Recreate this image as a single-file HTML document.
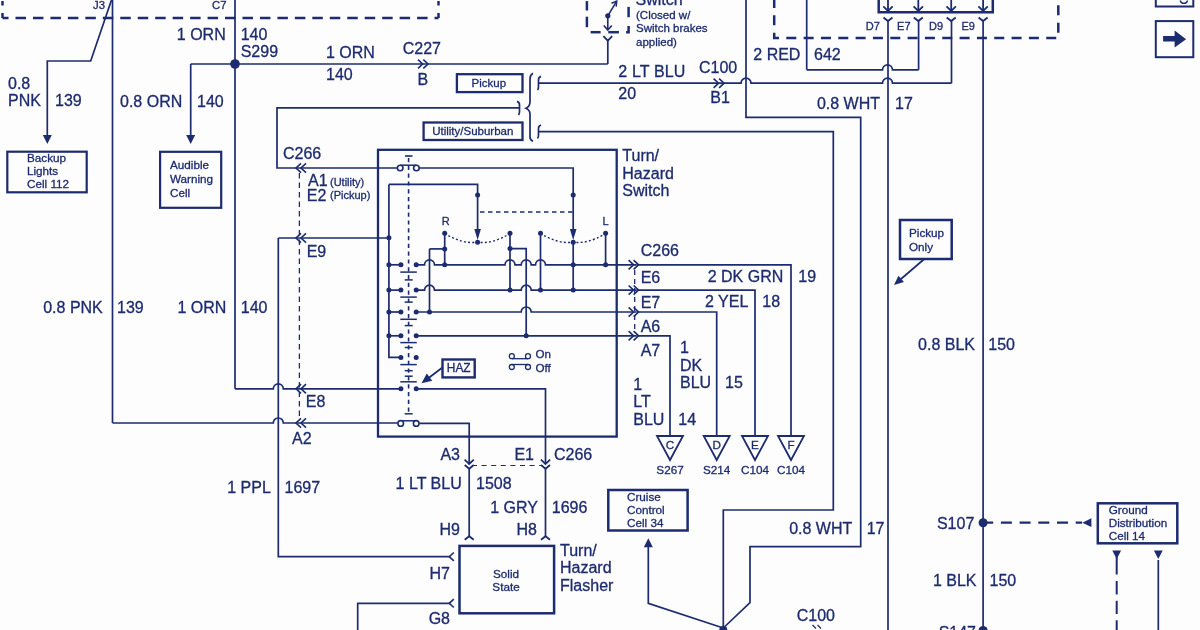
<!DOCTYPE html>
<html><head><meta charset="utf-8"><style>
html,body{margin:0;padding:0;background:#fdfdfd;}
svg{display:block;will-change:transform;}
text{font-family:"Liberation Sans",sans-serif;fill:#1d2b6f;stroke:#1d2b6f;stroke-width:0.3px;}
</style></head><body>
<svg width="1200" height="630" viewBox="0 0 1200 630">
<rect width="1200" height="630" fill="#fdfdfd"/>
<path d="M2.5 18 L438.5 18" fill="none" stroke="#1d2b6f" stroke-width="2.5" stroke-dasharray="10.5 6.96" stroke-dashoffset="4.46"/>
<path d="M2.5 1 L2.5 5.5" fill="none" stroke="#1d2b6f" stroke-width="2.5" />
<path d="M2.5 13 L2.5 18" fill="none" stroke="#1d2b6f" stroke-width="2.5" />
<path d="M438.5 1 L438.5 5.5" fill="none" stroke="#1d2b6f" stroke-width="2.5" />
<path d="M438.5 13 L438.5 18" fill="none" stroke="#1d2b6f" stroke-width="2.5" />
<text x="93" y="8.5" font-size="11.3" text-anchor="start" >J3</text>
<text x="212" y="8.5" font-size="11.3" text-anchor="start" >C7</text>
<path d="M112.5 0 L112.5 423" fill="none" stroke="#1d2b6f" stroke-width="1.7" />
<path d="M111.5 0 L90.7 61 L47.3 61 L47.3 135" fill="none" stroke="#1d2b6f" stroke-width="1.7" />
<path d="M47.3 144 L42.80 135.00 L51.80 135.00 Z" fill="#1d2b6f"/>
<text x="8" y="88.6" font-size="16" text-anchor="start" >0.8</text>
<text x="8" y="106.2" font-size="16" text-anchor="start" >PNK</text>
<text x="55" y="106.2" font-size="16" text-anchor="start" >139</text>
<rect x="7.3" y="151.7" width="79.4" height="40.60000000000002" fill="none" stroke="#1d2b6f" stroke-width="2.2"/>
<text x="27" y="162.4" font-size="11.7" text-anchor="start" >Backup</text>
<text x="27" y="175.2" font-size="11.7" text-anchor="start" >Lights</text>
<text x="27" y="188" font-size="11.7" text-anchor="start" >Cell 112</text>
<path d="M235 0 L235 388.8" fill="none" stroke="#1d2b6f" stroke-width="1.7" />
<text x="225.7" y="39.9" font-size="16" text-anchor="end" >1 ORN</text>
<text x="240.7" y="39.9" font-size="16" text-anchor="start" >140</text>
<text x="240.7" y="57.3" font-size="16" text-anchor="start" >S299</text>
<circle cx="235" cy="64" r="4.8" fill="#1d2b6f"/>
<path d="M190.7 64 L607.8 64" fill="none" stroke="#1d2b6f" stroke-width="1.7"/>
<path d="M190.7 64 L190.7 135" fill="none" stroke="#1d2b6f" stroke-width="1.7" />
<path d="M190.7 144 L186.20 135.00 L195.20 135.00 Z" fill="#1d2b6f"/>
<text x="120" y="106.6" font-size="16" text-anchor="start" >0.8 ORN</text>
<text x="197" y="106.6" font-size="16" text-anchor="start" >140</text>
<rect x="160.1" y="151.8" width="61.099999999999994" height="56.0" fill="none" stroke="#1d2b6f" stroke-width="2.2"/>
<text x="170" y="168.7" font-size="11.7" text-anchor="start" >Audible</text>
<text x="170" y="182.5" font-size="11.7" text-anchor="start" >Warning</text>
<text x="170" y="196.5" font-size="11.7" text-anchor="start" >Cell</text>
<text x="326" y="58.0" font-size="16" text-anchor="start" >1 ORN</text>
<text x="326" y="80.0" font-size="16" text-anchor="start" >140</text>
<path d="M418.0 59.7 L422.7 64 L418.0 68.3" fill="none" stroke="#1d2b6f" stroke-width="1.6" />
<path d="M423.3 59.7 L428 64 L423.3 68.3" fill="none" stroke="#1d2b6f" stroke-width="1.6" />
<text x="402.7" y="53.9" font-size="16" text-anchor="start" >C227</text>
<text x="417.5" y="84.6" font-size="16" text-anchor="start" >B</text>
<path d="M586.9 1.1 L586.9 10.5" fill="none" stroke="#1d2b6f" stroke-width="2.5" />
<path d="M586.9 16.7 L586.9 27.2" fill="none" stroke="#1d2b6f" stroke-width="2.5" />
<path d="M590.6 32.2 L600.6 32.2" fill="none" stroke="#1d2b6f" stroke-width="2.5" />
<path d="M608.3 32.2 L618.9 32.2" fill="none" stroke="#1d2b6f" stroke-width="2.5" />
<path d="M626.1 32.2 L628.6 32.2 L628.6 26.1" fill="none" stroke="#1d2b6f" stroke-width="2.5" />
<path d="M628.6 6.9 L628.6 17.2" fill="none" stroke="#1d2b6f" stroke-width="2.5" />
<circle cx="607.8" cy="15.8" r="2.6" fill="#1d2b6f"/>
<path d="M607.8 15.8 L616.7 1.1" fill="none" stroke="#1d2b6f" stroke-width="1.6" />
<path d="M607.8 15.8 L607.8 30" fill="none" stroke="#1d2b6f" stroke-width="1.6" />
<path d="M603.8 25.5 L607.8 30 L611.8 25.5" fill="none" stroke="#1d2b6f" stroke-width="1.6" />
<path d="M603.4 36.1 L607.8 40.6 L612.2 36.1" fill="none" stroke="#1d2b6f" stroke-width="1.8" />
<path d="M607.8 40.6 L607.8 64" fill="none" stroke="#1d2b6f" stroke-width="1.7" />
<text x="635.5" y="4.5" font-size="16" text-anchor="start" >Switch</text>
<text x="636" y="18.6" font-size="11.5" text-anchor="start" >(Closed w/</text>
<text x="636" y="32.2" font-size="11.5" text-anchor="start" >Switch brakes</text>
<text x="636" y="46.1" font-size="11.5" text-anchor="start" >applied)</text>
<path d="M611.5 3.2 L616.7 1.1 L616.2 6.6" fill="none" stroke="#1d2b6f" stroke-width="1.5"/>
<rect x="456.9" y="74.2" width="65.60000000000002" height="17.89999999999999" fill="none" stroke="#1d2b6f" stroke-width="2.3"/>
<text x="488.8" y="86.6" font-size="11.5" text-anchor="middle" >Pickup</text>
<rect x="423.6" y="122.5" width="98.89999999999998" height="17.5" fill="none" stroke="#1d2b6f" stroke-width="2.3"/>
<text x="472.8" y="134.9" font-size="11.5" text-anchor="middle" >Utility/Suburban</text>
<path d="M533 73.3 Q530 75 530 79 L530 102 Q530 106.5 526 108.2 Q530 110 530 114 L530 137 Q530 140 533 141.2" fill="none" stroke="#1d2b6f" stroke-width="1.7"/>
<path d="M541 76.4 Q538.5 77.2 538.5 80 L538.5 86.5 Q538.5 89 537.5 90" fill="none" stroke="#1d2b6f" stroke-width="1.7"/>
<path d="M541 125 Q538.5 125.8 538.5 128.6 L538.5 135 Q538.5 137.5 537.5 138.5" fill="none" stroke="#1d2b6f" stroke-width="1.7"/>
<path d="M517 101.4 Q519.5 102.2 519.5 105 L519.5 111.5 Q519.5 114 518.5 115" fill="none" stroke="#1d2b6f" stroke-width="1.7"/>
<path d="M519.5 107.9 L277 107.9 L277 168 L397.4 168" fill="none" stroke="#1d2b6f" stroke-width="1.7" />
<path d="M301 163.4 L296 168 L301 172.6" fill="none" stroke="#1d2b6f" stroke-width="1.6" />
<path d="M306 163.4 L301 168 L306 172.6" fill="none" stroke="#1d2b6f" stroke-width="1.6" />
<path d="M299.4 173 L299.4 418" fill="none" stroke="#1d2b6f" stroke-width="1.3" stroke-dasharray="5.5 4" stroke-dashoffset="0"/>
<text x="283" y="159.1" font-size="16" text-anchor="start" >C266</text>
<text x="308.1" y="186.2" font-size="16" text-anchor="start" >A1</text>
<text x="330" y="185.6" font-size="11" text-anchor="start" >(Utility)</text>
<text x="306.8" y="201.3" font-size="16" text-anchor="start" >E2</text>
<text x="330" y="198.7" font-size="11" text-anchor="start" >(Pickup)</text>
<path d="M538.5 83.2 L741 83.2 A5 5 0 0 1 751 83.2 L882.5 83.2 A5 5 0 0 1 892.5 83.2 L951.5 83.2" fill="none" stroke="#1d2b6f" stroke-width="1.7"/>
<path d="M951.5 83.2 L951.5 21" fill="none" stroke="#1d2b6f" stroke-width="1.7" />
<text x="618.3" y="76.8" font-size="16" text-anchor="start" textLength="67" lengthAdjust="spacing">2 LT BLU</text>
<text x="618.3" y="99.2" font-size="16" text-anchor="start" >20</text>
<path d="M713.6 78.60000000000001 L718.6 83.2 L713.6 87.8" fill="none" stroke="#1d2b6f" stroke-width="1.6" />
<path d="M719.1 78.60000000000001 L724.1 83.2 L719.1 87.8" fill="none" stroke="#1d2b6f" stroke-width="1.6" />
<text x="699" y="72.5" font-size="16" text-anchor="start" >C100</text>
<text x="710.3" y="103.4" font-size="16" text-anchor="start" >B1</text>
<path d="M538.5 131.7 L833.3 131.7 L833.3 510 L723.3 510 L723.3 628" fill="none" stroke="#1d2b6f" stroke-width="1.7" />
<path d="M746 0 L746 117.3 L860.7 117.3 L860.7 546.7 L750 546.7 L750 602.7 L723.3 628" fill="none" stroke="#1d2b6f" stroke-width="1.7"/>
<text x="753.3" y="59.7" font-size="16" text-anchor="start" >2 RED</text>
<text x="814" y="59.7" font-size="16" text-anchor="start" >642</text>
<text x="880" y="108.6" font-size="16" text-anchor="end" >0.8 WHT</text>
<text x="895" y="108.6" font-size="16" text-anchor="start" >17</text>
<path d="M806.7 0 L806.7 69.8" fill="none" stroke="#1d2b6f" stroke-width="1.7" />
<path d="M806.7 69.8 L882.5 69.8 A5 5 0 0 1 892.5 69.8 L918.6 69.8" fill="none" stroke="#1d2b6f" stroke-width="1.7"/>
<path d="M918.6 69.8 L918.6 21" fill="none" stroke="#1d2b6f" stroke-width="1.7" />
<path d="M774.2 0 L774.2 37.9 L1058.3 37.9 L1058.3 0" fill="none" stroke="#1d2b6f" stroke-width="2.5" stroke-dasharray="10 7.33" stroke-dashoffset="2"/>
<path d="M878.7 0 L878.7 12.25 L992.8 12.25 L992.8 0" fill="none" stroke="#1d2b6f" stroke-width="2.5"/>
<path d="M888 0 L888 11" fill="none" stroke="#1d2b6f" stroke-width="1.8" />
<path d="M883.3 6.4 L888 11 L892.7 6.4" fill="none" stroke="#1d2b6f" stroke-width="1.8" />
<path d="M883.5 17.5 L888 21 L892.5 17.5" fill="none" stroke="#1d2b6f" stroke-width="1.8" />
<path d="M918.3 0 L918.3 11" fill="none" stroke="#1d2b6f" stroke-width="1.8" />
<path d="M913.5999999999999 6.4 L918.3 11 L923.0 6.4" fill="none" stroke="#1d2b6f" stroke-width="1.8" />
<path d="M913.8 17.5 L918.3 21 L922.8 17.5" fill="none" stroke="#1d2b6f" stroke-width="1.8" />
<path d="M951.2 0 L951.2 11" fill="none" stroke="#1d2b6f" stroke-width="1.8" />
<path d="M946.5 6.4 L951.2 11 L955.9000000000001 6.4" fill="none" stroke="#1d2b6f" stroke-width="1.8" />
<path d="M946.7 17.5 L951.2 21 L955.7 17.5" fill="none" stroke="#1d2b6f" stroke-width="1.8" />
<path d="M983.1 0 L983.1 11" fill="none" stroke="#1d2b6f" stroke-width="1.8" />
<path d="M978.4 6.4 L983.1 11 L987.8000000000001 6.4" fill="none" stroke="#1d2b6f" stroke-width="1.8" />
<path d="M978.6 17.5 L983.1 21 L987.6 17.5" fill="none" stroke="#1d2b6f" stroke-width="1.8" />
<text x="865.8" y="29.75" font-size="11" text-anchor="start" >D7</text>
<text x="897.1" y="29.75" font-size="11" text-anchor="start" >E7</text>
<text x="929" y="29.75" font-size="11" text-anchor="start" >D9</text>
<text x="961.5" y="29.75" font-size="11" text-anchor="start" >E9</text>
<path d="M888 21 L888 630" fill="none" stroke="#1d2b6f" stroke-width="1.7" />
<path d="M983.1 21 L983.1 630" fill="none" stroke="#1d2b6f" stroke-width="1.7" />
<path d="M1155.8 0 L1155.8 6.5 L1193.3 6.5 L1193.3 0" fill="none" stroke="#1d2b6f" stroke-width="2"/>
<path d="M1180.2 0.5 A3.8 3.8 0 0 0 1187.6 0.5" fill="none" stroke="#1d2b6f" stroke-width="1.3"/>
<rect x="1155.8" y="21.1" width="37.5" height="36.1" fill="none" stroke="#1d2b6f" stroke-width="2"/>
<path d="M1163.1 36 L1174.6 36 L1174.6 30.5 L1186.1 39.2 L1174.6 47.5 L1174.6 41.6 L1163.1 41.6 Z" fill="#1d2b6f"/>
<rect x="378" y="149.8" width="238.70000000000005" height="286.8" fill="none" stroke="#1d2b6f" stroke-width="2.3"/>
<text x="622.3" y="161.1" font-size="16" text-anchor="start" >Turn/</text>
<text x="622.3" y="178.7" font-size="16" text-anchor="start" >Hazard</text>
<text x="622.3" y="196.1" font-size="16" text-anchor="start" >Switch</text>
<path d="M278.3 238 L278.3 556.7 L450 556.7" fill="none" stroke="#1d2b6f" stroke-width="1.7" />
<path d="M278.3 238 L388.9 238" fill="none" stroke="#1d2b6f" stroke-width="1.7"/>
<path d="M301 233.4 L296 238 L301 242.6" fill="none" stroke="#1d2b6f" stroke-width="1.6" />
<path d="M306 233.4 L301 238 L306 242.6" fill="none" stroke="#1d2b6f" stroke-width="1.6" />
<text x="306.7" y="257.3" font-size="16" text-anchor="start" >E9</text>
<path d="M235 388.8 L273.3 388.8 A5 5 0 0 1 283.3 388.8 L400.7 388.8" fill="none" stroke="#1d2b6f" stroke-width="1.7"/>
<path d="M301 384.2 L296 388.8 L301 393.40000000000003" fill="none" stroke="#1d2b6f" stroke-width="1.6" />
<path d="M306 384.2 L301 388.8 L306 393.40000000000003" fill="none" stroke="#1d2b6f" stroke-width="1.6" />
<text x="305.8" y="407.3" font-size="16" text-anchor="start" >E8</text>
<path d="M112.5 423 L273.3 423 A5 5 0 0 1 283.3 423 L397.9 423" fill="none" stroke="#1d2b6f" stroke-width="1.7"/>
<path d="M301 418.4 L296 423 L301 427.6" fill="none" stroke="#1d2b6f" stroke-width="1.6" />
<path d="M306 418.4 L301 423 L306 427.6" fill="none" stroke="#1d2b6f" stroke-width="1.6" />
<text x="292" y="443.9" font-size="16" text-anchor="start" >A2</text>
<path d="M388.9 184.4 L477.6 184.4 L477.6 232" fill="none" stroke="#1d2b6f" stroke-width="1.7" />
<path d="M477.6 240 L474.30 229.00 L480.90 229.00 Z" fill="#1d2b6f"/>
<path d="M388.9 184.4 L388.9 357.4 L400.7 357.4" fill="none" stroke="#1d2b6f" stroke-width="1.7" />
<path d="M400.2 165.2 L416.4 165.2" fill="none" stroke="#1d2b6f" stroke-width="1.5" />
<circle cx="400.2" cy="168" r="2.8" fill="#fff" stroke="#1d2b6f" stroke-width="1.6"/>
<circle cx="416.4" cy="168" r="2.8" fill="#fff" stroke="#1d2b6f" stroke-width="1.6"/>
<path d="M419.2 168 L573.2 168 L573.2 232" fill="none" stroke="#1d2b6f" stroke-width="1.7" />
<path d="M573.2 240 L569.90 229.00 L576.50 229.00 Z" fill="#1d2b6f"/>
<path d="M405 156 L412.5 156" fill="none" stroke="#1d2b6f" stroke-width="1.6" />
<path d="M408.6 158 L408.6 413" fill="none" stroke="#1d2b6f" stroke-width="1.6" stroke-dasharray="4.2 3.6" stroke-dashoffset="0"/>
<circle cx="477.6" cy="194.9" r="2.5" fill="#1d2b6f"/>
<circle cx="573.2" cy="194.9" r="2.5" fill="#1d2b6f"/>
<path d="M480 212 L573 212" fill="none" stroke="#1d2b6f" stroke-width="1.3" stroke-dasharray="4.5 3.5" stroke-dashoffset="0"/>
<circle cx="388.9" cy="237.8" r="2.5" fill="#1d2b6f"/>
<circle cx="388.9" cy="264.8" r="2.5" fill="#1d2b6f"/>
<circle cx="388.9" cy="290.1" r="2.5" fill="#1d2b6f"/>
<circle cx="388.9" cy="312" r="2.5" fill="#1d2b6f"/>
<circle cx="388.9" cy="335.8" r="2.5" fill="#1d2b6f"/>
<circle cx="400.9" cy="264.8" r="2.5" fill="#1d2b6f"/>
<circle cx="416.2" cy="264.8" r="2.5" fill="#1d2b6f"/>
<circle cx="400.9" cy="290.1" r="2.5" fill="#1d2b6f"/>
<circle cx="416.2" cy="290.1" r="2.5" fill="#1d2b6f"/>
<circle cx="400.9" cy="312" r="2.5" fill="#1d2b6f"/>
<circle cx="416.2" cy="312" r="2.5" fill="#1d2b6f"/>
<circle cx="400.9" cy="335.8" r="2.5" fill="#1d2b6f"/>
<circle cx="416.2" cy="335.8" r="2.5" fill="#1d2b6f"/>
<circle cx="400.9" cy="357.4" r="2.5" fill="#1d2b6f"/>
<circle cx="416.2" cy="357.4" r="2.5" fill="#1d2b6f"/>
<circle cx="400.9" cy="388.8" r="2.5" fill="#1d2b6f"/>
<circle cx="416.2" cy="388.8" r="2.5" fill="#1d2b6f"/>
<path d="M400.7 420.8 L416.2 420.8" fill="none" stroke="#1d2b6f" stroke-width="1.5" />
<circle cx="400.7" cy="423.4" r="2.8" fill="#fff" stroke="#1d2b6f" stroke-width="1.6"/>
<circle cx="416.2" cy="423.4" r="2.8" fill="#fff" stroke="#1d2b6f" stroke-width="1.6"/>
<path d="M419.2 423.4 L469.2 423.4 L469.2 463.5" fill="none" stroke="#1d2b6f" stroke-width="1.7" />
<path d="M464.59999999999997 459.59999999999997 L469.2 463.9 L473.8 459.59999999999997" fill="none" stroke="#1d2b6f" stroke-width="1.8" />
<path d="M416.2 388.8 L545.5 388.8 L545.5 463.5" fill="none" stroke="#1d2b6f" stroke-width="1.7" />
<path d="M540.9 459.59999999999997 L545.5 463.9 L550.1 459.59999999999997" fill="none" stroke="#1d2b6f" stroke-width="1.8" />
<path d="M388.9 264.8 L400.9 264.8" fill="none" stroke="#1d2b6f" stroke-width="1.7" />
<path d="M388.9 290.1 L400.9 290.1" fill="none" stroke="#1d2b6f" stroke-width="1.7" />
<path d="M388.9 312 L400.9 312" fill="none" stroke="#1d2b6f" stroke-width="1.7" />
<path d="M388.9 335.8 L400.9 335.8" fill="none" stroke="#1d2b6f" stroke-width="1.7" />
<path d="M416.2 264.8 L424.5 264.8 A5 5 0 0 1 434.5 264.8 L505 264.8 A5 5 0 0 1 515 264.8 L521.2 264.8 A5 5 0 0 1 531.2 264.8 L535.5 264.8 A5 5 0 0 1 545.5 264.8 L636.6 264.8" fill="none" stroke="#1d2b6f" stroke-width="1.7"/>
<path d="M416.2 290.1 L424.5 290.1 A5 5 0 0 1 434.5 290.1 L521.2 290.1 A5 5 0 0 1 531.2 290.1 L636.6 290.1" fill="none" stroke="#1d2b6f" stroke-width="1.7"/>
<path d="M416.2 312 L521.2 312 A5 5 0 0 1 531.2 312 L636.6 312" fill="none" stroke="#1d2b6f" stroke-width="1.7"/>
<path d="M416.2 335.8 L636.6 335.8" fill="none" stroke="#1d2b6f" stroke-width="1.7"/>
<path d="M400.3 272.1 L416.8 272.1" fill="none" stroke="#1d2b6f" stroke-width="1.5" />
<path d="M404.7 279.9 L412.7 279.9" fill="none" stroke="#1d2b6f" stroke-width="1.5" />
<path d="M400.3 297.1 L416.8 297.1" fill="none" stroke="#1d2b6f" stroke-width="1.5" />
<path d="M404.7 302.1 L412.7 302.1" fill="none" stroke="#1d2b6f" stroke-width="1.5" />
<path d="M400.3 319.3 L416.8 319.3" fill="none" stroke="#1d2b6f" stroke-width="1.5" />
<path d="M404.7 325.6 L412.7 325.6" fill="none" stroke="#1d2b6f" stroke-width="1.5" />
<path d="M400.3 342.6 L416.8 342.6" fill="none" stroke="#1d2b6f" stroke-width="1.5" />
<path d="M404.7 347.5 L412.7 347.5" fill="none" stroke="#1d2b6f" stroke-width="1.5" />
<path d="M400.3 364.6 L416.8 364.6" fill="none" stroke="#1d2b6f" stroke-width="1.5" />
<path d="M404.7 370.7 L412.7 370.7" fill="none" stroke="#1d2b6f" stroke-width="1.5" />
<path d="M404.7 376.2 L412.7 376.2" fill="none" stroke="#1d2b6f" stroke-width="1.5" />
<path d="M400.3 381.8 L416.8 381.8" fill="none" stroke="#1d2b6f" stroke-width="1.5" />
<path d="M404.7 413.8 L412.7 413.8" fill="none" stroke="#1d2b6f" stroke-width="1.5" />
<text x="441.8" y="224.7" font-size="11" text-anchor="start" >R</text>
<text x="602.4" y="224.8" font-size="11" text-anchor="start" >L</text>
<circle cx="444.7" cy="233.3" r="2.5" fill="#1d2b6f"/>
<circle cx="510" cy="233.3" r="2.5" fill="#1d2b6f"/>
<circle cx="540.5" cy="233.3" r="2.5" fill="#1d2b6f"/>
<circle cx="605.6" cy="233.3" r="2.5" fill="#1d2b6f"/>
<circle cx="477.6" cy="242.3" r="2.5" fill="#1d2b6f"/>
<circle cx="573.2" cy="242.3" r="2.5" fill="#1d2b6f"/>
<path d="M444.7 233.3 Q461 244 477.6 242.3 Q494 244 510 233.3" fill="none" stroke="#1d2b6f" stroke-width="1.4" stroke-dasharray="2 2.2"/>
<path d="M540.5 233.3 Q557 244 573.2 242.3 Q589 244 605.6 233.3" fill="none" stroke="#1d2b6f" stroke-width="1.4" stroke-dasharray="2 2.2"/>
<path d="M444.7 233.3 L444.7 264.8" fill="none" stroke="#1d2b6f" stroke-width="1.7" />
<circle cx="444.7" cy="248.9" r="2.5" fill="#1d2b6f"/>
<circle cx="444.7" cy="264.8" r="2.5" fill="#1d2b6f"/>
<path d="M429.5 248.9 L444.7 248.9" fill="none" stroke="#1d2b6f" stroke-width="1.7" />
<path d="M429.5 248.9 L429.5 312" fill="none" stroke="#1d2b6f" stroke-width="1.7" />
<circle cx="429.5" cy="312" r="2.5" fill="#1d2b6f"/>
<path d="M510 233.3 L510 290.1" fill="none" stroke="#1d2b6f" stroke-width="1.7" />
<circle cx="510" cy="248.6" r="2.5" fill="#1d2b6f"/>
<circle cx="510" cy="290.1" r="2.5" fill="#1d2b6f"/>
<path d="M510 248.6 L526.2 248.6 L526.2 335.8" fill="none" stroke="#1d2b6f" stroke-width="1.7" />
<circle cx="526.2" cy="335.8" r="2.5" fill="#1d2b6f"/>
<path d="M540.5 233.3 L540.5 290.1" fill="none" stroke="#1d2b6f" stroke-width="1.7" />
<circle cx="540.5" cy="290.1" r="2.5" fill="#1d2b6f"/>
<path d="M573.2 242.3 L573.2 290.1" fill="none" stroke="#1d2b6f" stroke-width="1.7" />
<circle cx="573.2" cy="264.8" r="2.5" fill="#1d2b6f"/>
<circle cx="573.2" cy="290.1" r="2.5" fill="#1d2b6f"/>
<path d="M605.6 233.3 L605.6 264.8" fill="none" stroke="#1d2b6f" stroke-width="1.7" />
<circle cx="605.6" cy="264.8" r="2.5" fill="#1d2b6f"/>
<circle cx="511.8" cy="356.2" r="2.5" fill="#fff" stroke="#1d2b6f" stroke-width="1.3"/>
<circle cx="528" cy="356.2" r="2.5" fill="#fff" stroke="#1d2b6f" stroke-width="1.3"/>
<path d="M512 358.7 L528 358.7" fill="none" stroke="#1d2b6f" stroke-width="1.3" />
<circle cx="511.8" cy="367" r="2.5" fill="#fff" stroke="#1d2b6f" stroke-width="1.3"/>
<circle cx="528" cy="367" r="2.5" fill="#fff" stroke="#1d2b6f" stroke-width="1.3"/>
<path d="M512 364.5 L528 364.5" fill="none" stroke="#1d2b6f" stroke-width="1.3" />
<text x="535.6" y="358" font-size="11.6" text-anchor="start" >On</text>
<text x="535.6" y="371.8" font-size="11.6" text-anchor="start" >Off</text>
<rect x="442.5" y="359.5" width="32.19999999999999" height="17.899999999999977" fill="none" stroke="#1d2b6f" stroke-width="2.4"/>
<text x="458.7" y="372.3" font-size="11.9" text-anchor="middle" >HAZ</text>
<path d="M442.4 367.5 L428 378.5" fill="none" stroke="#1d2b6f" stroke-width="1.7" />
<path d="M421.5 383.2 L426.79 373.60 L432.20 380.79 Z" fill="#1d2b6f"/>
<path d="M628.6 260.2 L633.6 264.8 L628.6 269.40000000000003" fill="none" stroke="#1d2b6f" stroke-width="1.6" />
<path d="M633.6 260.2 L638.6 264.8 L633.6 269.40000000000003" fill="none" stroke="#1d2b6f" stroke-width="1.6" />
<path d="M628.6 285.5 L633.6 290.1 L628.6 294.70000000000005" fill="none" stroke="#1d2b6f" stroke-width="1.6" />
<path d="M633.6 285.5 L638.6 290.1 L633.6 294.70000000000005" fill="none" stroke="#1d2b6f" stroke-width="1.6" />
<path d="M628.6 307.4 L633.6 312 L628.6 316.6" fill="none" stroke="#1d2b6f" stroke-width="1.6" />
<path d="M633.6 307.4 L638.6 312 L633.6 316.6" fill="none" stroke="#1d2b6f" stroke-width="1.6" />
<path d="M628.6 331.2 L633.6 335.8 L628.6 340.40000000000003" fill="none" stroke="#1d2b6f" stroke-width="1.6" />
<path d="M633.6 331.2 L638.6 335.8 L633.6 340.40000000000003" fill="none" stroke="#1d2b6f" stroke-width="1.6" />
<path d="M634.7 270 L634.7 332" fill="none" stroke="#1d2b6f" stroke-width="1.3" stroke-dasharray="5 4" stroke-dashoffset="0"/>
<text x="640.7" y="255.6" font-size="16" text-anchor="start" >C266</text>
<text x="640.7" y="283.3" font-size="16" text-anchor="start" >E6</text>
<text x="640.7" y="308.3" font-size="16" text-anchor="start" >E7</text>
<text x="640.7" y="331.6" font-size="16" text-anchor="start" >A6</text>
<text x="640.7" y="356.3" font-size="16" text-anchor="start" >A7</text>
<path d="M636.6 264.8 L791 264.8 L791 436" fill="none" stroke="#1d2b6f" stroke-width="1.7" />
<path d="M636.6 290.1 L755 290.1 L755 436" fill="none" stroke="#1d2b6f" stroke-width="1.7" />
<path d="M636.6 312 L716.7 312 L716.7 436" fill="none" stroke="#1d2b6f" stroke-width="1.7" />
<path d="M636.6 335.8 L670 335.8 L670 436" fill="none" stroke="#1d2b6f" stroke-width="1.7" />
<text x="783.3" y="281.6" font-size="16" text-anchor="end" >2 DK GRN</text>
<text x="798.3" y="281.6" font-size="16" text-anchor="start" >19</text>
<text x="748.3" y="307.3" font-size="16" text-anchor="end" >2 YEL</text>
<text x="762.3" y="307.3" font-size="16" text-anchor="start" >18</text>
<text x="680" y="353.3" font-size="16" text-anchor="start" >1</text>
<text x="680" y="370.6" font-size="16" text-anchor="start" >DK</text>
<text x="680" y="388.3" font-size="16" text-anchor="start" >BLU</text>
<text x="725" y="388.3" font-size="16" text-anchor="start" >15</text>
<text x="633.3" y="389.9" font-size="16" text-anchor="start" >1</text>
<text x="633.3" y="407.3" font-size="16" text-anchor="start" >LT</text>
<text x="633.3" y="424.6" font-size="16" text-anchor="start" >BLU</text>
<text x="678.3" y="424.6" font-size="16" text-anchor="start" >14</text>
<path d="M657 436 L683 436 L670 460 Z" fill="none" stroke="#1d2b6f" stroke-width="1.8"/>
<text x="670" y="448.5" font-size="11.7" text-anchor="middle" >C</text>
<text x="670" y="474" font-size="11.7" text-anchor="middle" >S267</text>
<path d="M703.7 436 L729.7 436 L716.7 460 Z" fill="none" stroke="#1d2b6f" stroke-width="1.8"/>
<text x="716.7" y="448.5" font-size="11.7" text-anchor="middle" >D</text>
<text x="716.7" y="474" font-size="11.7" text-anchor="middle" >S214</text>
<path d="M742 436 L768 436 L755 460 Z" fill="none" stroke="#1d2b6f" stroke-width="1.8"/>
<text x="755" y="448.5" font-size="11.7" text-anchor="middle" >E</text>
<text x="755" y="474" font-size="11.7" text-anchor="middle" >C104</text>
<path d="M778 436 L804 436 L791 460 Z" fill="none" stroke="#1d2b6f" stroke-width="1.8"/>
<text x="791" y="448.5" font-size="11.7" text-anchor="middle" >F</text>
<text x="791" y="474" font-size="11.7" text-anchor="middle" >C104</text>
<rect x="900" y="220" width="51.700000000000045" height="39" fill="none" stroke="#1d2b6f" stroke-width="2.5"/>
<text x="909" y="236.5" font-size="11.7" text-anchor="start" >Pickup</text>
<text x="909" y="250.5" font-size="11.7" text-anchor="start" >Only</text>
<path d="M924.3 259 L901 279" fill="none" stroke="#1d2b6f" stroke-width="1.7" />
<path d="M894 285 L898.47 275.63 L903.94 282.00 Z" fill="#1d2b6f"/>
<text x="975" y="349.9" font-size="16" text-anchor="end" >0.8 BLK</text>
<text x="988.3" y="349.9" font-size="16" text-anchor="start" >150</text>
<text x="102.8" y="313.3" font-size="16" text-anchor="end" >0.8 PNK</text>
<text x="117" y="313.3" font-size="16" text-anchor="start" >139</text>
<text x="226.3" y="313.3" font-size="16" text-anchor="end" >1 ORN</text>
<text x="240.8" y="313.3" font-size="16" text-anchor="start" >140</text>
<text x="270.8" y="493.1" font-size="16" text-anchor="end" >1 PPL</text>
<text x="284.5" y="493.1" font-size="16" text-anchor="start" >1697</text>
<text x="460" y="459.5" font-size="16" text-anchor="end" >A3</text>
<text x="534" y="459.5" font-size="16" text-anchor="end" >E1</text>
<text x="554" y="459.5" font-size="16" text-anchor="start" >C266</text>
<path d="M472 465.5 L542 465.5" fill="none" stroke="#1d2b6f" stroke-width="1.2" stroke-dasharray="5 4.6" stroke-dashoffset="0"/>
<path d="M464.7 465 L469.2 468.8 L473.7 465" fill="none" stroke="#1d2b6f" stroke-width="1.8" />
<path d="M469.2 468.8 L469.2 536.2" fill="none" stroke="#1d2b6f" stroke-width="1.7" />
<path d="M464.7 539.7 L469.2 536.2 L473.7 539.7" fill="none" stroke="#1d2b6f" stroke-width="1.8" />
<path d="M541.0 465 L545.5 468.8 L550.0 465" fill="none" stroke="#1d2b6f" stroke-width="1.8" />
<path d="M545.5 468.8 L545.5 536.2" fill="none" stroke="#1d2b6f" stroke-width="1.7" />
<path d="M541.0 539.7 L545.5 536.2 L550.0 539.7" fill="none" stroke="#1d2b6f" stroke-width="1.8" />
<text x="461.7" y="488.9" font-size="16" text-anchor="end" >1 LT BLU</text>
<text x="476" y="489.0" font-size="16" text-anchor="start" >1508</text>
<text x="538" y="513.1" font-size="16" text-anchor="end" >1 GRY</text>
<text x="551.8" y="513.1" font-size="16" text-anchor="start" >1696</text>
<text x="460" y="534.9" font-size="16" text-anchor="end" >H9</text>
<text x="537" y="535.1" font-size="16" text-anchor="end" >H8</text>
<rect x="459.5" y="545.9" width="94.60000000000002" height="67.39999999999998" fill="none" stroke="#1d2b6f" stroke-width="2.5"/>
<text x="506" y="577.5" font-size="11.7" text-anchor="middle" >Solid</text>
<text x="506" y="591" font-size="11.7" text-anchor="middle" >State</text>
<path d="M453.8 552.5 L449.3 556.7 L453.8 560.9000000000001" fill="none" stroke="#1d2b6f" stroke-width="1.6" />
<text x="450" y="578.9" font-size="16" text-anchor="end" >H7</text>
<path d="M357.7 630 L357.7 603.3 L450 603.3" fill="none" stroke="#1d2b6f" stroke-width="1.7" />
<path d="M453.8 599.0999999999999 L449.3 603.3 L453.8 607.5" fill="none" stroke="#1d2b6f" stroke-width="1.6" />
<text x="450" y="623.9" font-size="16" text-anchor="end" >G8</text>
<text x="560" y="555.6" font-size="16" text-anchor="start" >Turn/</text>
<text x="560" y="573.3" font-size="16" text-anchor="start" >Hazard</text>
<text x="560" y="590.6" font-size="16" text-anchor="start" >Flasher</text>
<rect x="608.3" y="490" width="79.30000000000007" height="40.5" fill="none" stroke="#1d2b6f" stroke-width="2.5"/>
<text x="627" y="501" font-size="11.7" text-anchor="start" >Cruise</text>
<text x="627" y="514.2" font-size="11.7" text-anchor="start" >Control</text>
<text x="627" y="527.3" font-size="11.7" text-anchor="start" >Cell 34</text>
<path d="M648.3 545 L648.3 603.3 L723.3 628" fill="none" stroke="#1d2b6f" stroke-width="1.7" />
<path d="M648.3 538.3 L652.80 547.30 L643.80 547.30 Z" fill="#1d2b6f"/>
<circle cx="723.3" cy="630" r="4" fill="#1d2b6f"/>
<text x="852.3" y="533.9" font-size="16" text-anchor="end" >0.8 WHT</text>
<text x="866.7" y="533.9" font-size="16" text-anchor="start" >17</text>
<text x="796.7" y="620.6" font-size="16" text-anchor="start" >C100</text>
<path d="M812.5 625 L816 628.5" fill="none" stroke="#1d2b6f" stroke-width="1.3" />
<path d="M817.5 625 L821 628.5" fill="none" stroke="#1d2b6f" stroke-width="1.3" />
<circle cx="983.1" cy="522.7" r="4.5" fill="#1d2b6f"/>
<path d="M983.1 522.7 L1082 522.7" fill="none" stroke="#1d2b6f" stroke-width="2.2" stroke-dasharray="11 7.7" stroke-dashoffset="0.9"/>
<path d="M1091.4 518.3 L1091.4 527.1 L1082.3 522.7 Z" fill="#1d2b6f"/>
<rect x="1097.8" y="503.3" width="79.5" height="39.99999999999994" fill="none" stroke="#1d2b6f" stroke-width="2.5"/>
<text x="1108.7" y="513.5" font-size="11.7" text-anchor="start" >Ground</text>
<text x="1108.7" y="526.9" font-size="11.7" text-anchor="start" >Distribution</text>
<text x="1108.7" y="540.2" font-size="11.7" text-anchor="start" >Cell 14</text>
<path d="M1112.3 550.4 L1121.1 550.4 L1116.7 559 Z" fill="#1d2b6f"/>
<path d="M1153.9 550.4 L1162.7 550.4 L1158.3 559 Z" fill="#1d2b6f"/>
<path d="M1116.7 557 L1116.7 630" fill="none" stroke="#1d2b6f" stroke-width="2" stroke-dasharray="17.5 6.5 13.5 6.2 13.3 6.3" stroke-dashoffset="0"/>
<path d="M1158.3 560 L1158.3 630" fill="none" stroke="#1d2b6f" stroke-width="1.7" />
<text x="974.3" y="528.9" font-size="16" text-anchor="end" >S107</text>
<text x="976.5" y="586.1" font-size="16" text-anchor="end" >1 BLK</text>
<text x="989.5" y="586.1" font-size="16" text-anchor="start" >150</text>
<text x="976" y="637.6" font-size="16" text-anchor="end" >S147</text>
<circle cx="983.1" cy="630.5" r="4.5" fill="#1d2b6f"/>
</svg></body></html>
